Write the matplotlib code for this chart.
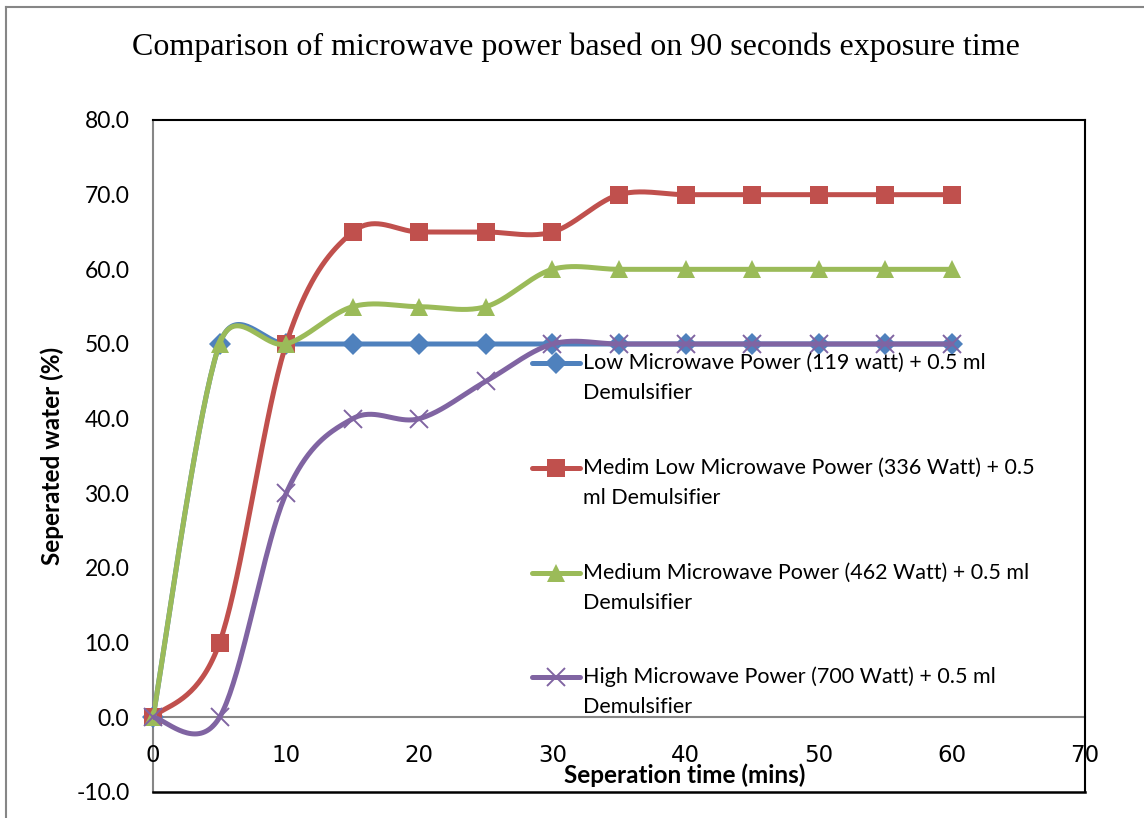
#!/usr/bin/env python3
"""Separated water vs separation time for four microwave power levels."""

import matplotlib
matplotlib.use("Agg")
import matplotlib.pyplot as plt
from matplotlib.lines import Line2D
import numpy as np

# separation time (mins)
times = [0, 5, 10, 15, 20, 25, 30, 35, 40, 45, 50, 55, 60]

low_power = [0, 50, 50, 50, 50, 50, 50, 50, 50, 50, 50, 50, 50]
medim_low_power = [0, 10, 50, 65, 65, 65, 65, 70, 70, 70, 70, 70, 70]
medium_power = [0, 50, 50, 55, 55, 55, 60, 60, 60, 60, 60, 60, 60]
high_power = [0, 0, 30, 40, 40, 45, 50, 50, 50, 50, 50, 50, 50]

series_labels = [
    "Low Microwave Power (119 watt) + 0.5 ml\nDemulsifier",
    "Medim Low Microwave Power (336 Watt) + 0.5\nml Demulsifier",
    "Medium Microwave Power (462 Watt) + 0.5 ml\nDemulsifier",
    "High Microwave Power (700 Watt) + 0.5 ml\nDemulsifier",
]

x_ticks = [0, 10, 20, 30, 40, 50, 60, 70]
y_ticks = [-10, 0, 10, 20, 30, 40, 50, 60, 70, 80]

COLORS = ["#4F81BD", "#C0504D", "#9BBB59", "#8064A2"]
MARKERS = ["D", "s", "^", "x"]
MSIZES = [11, 13.5, 13.5, 13.5]

SANS = ["Lato", "DejaVu Sans"]
W, H = 1144, 818


def smooth_curve(ax, x, y, steps=40, cap=0.7):
    """Excel-like smoothed line, built in display space so the
    tangent length can be capped relative to each segment."""
    pts = ax.transData.transform(np.column_stack([x, y]).astype(float))
    n = len(pts)
    t = np.linspace(0, 1, steps)[1:, None]
    out = [pts[:1]]
    for i in range(n - 1):
        p0 = pts[i - 1] if i > 0 else pts[i]
        p1, p2 = pts[i], pts[i + 1]
        p3 = pts[i + 2] if i + 2 < n else pts[i + 1]
        seg_len = np.hypot(*(p2 - p1))
        d02 = np.hypot(*(p2 - p0)) or 1.0
        d13 = np.hypot(*(p3 - p1)) or 1.0
        f1 = min(1 / 6, cap * seg_len / d02)
        f2 = min(1 / 6, cap * seg_len / d13)
        c1 = p1 + f1 * (p2 - p0)
        c2 = p2 - f2 * (p3 - p1)
        seg = ((1 - t) ** 3) * p1 + 3 * ((1 - t) ** 2) * t * c1 \
            + 3 * (1 - t) * t ** 2 * c2 + t ** 3 * p2
        out.append(seg)
    curve = ax.transData.inverted().transform(np.vstack(out))
    return curve[:, 0], curve[:, 1]


def main() -> None:
    fig = plt.figure(figsize=(W / 100, H / 100), dpi=100)
    left, right, top, bottom = 153, 1085, 120, 792
    ax = fig.add_axes([left / W, 1 - bottom / H, (right - left) / W, (bottom - top) / H])
    ax.set_xlim(0, 70)
    ax.set_ylim(-10, 80)

    data = [low_power, medim_low_power, medium_power, high_power]
    for vals, color, marker, ms in zip(data, COLORS, MARKERS, MSIZES):
        sx, sy = smooth_curve(ax, times, vals)
        ax.plot(sx, sy, color=color, lw=3.6, solid_capstyle="round", zorder=3)
        mew = 1.4 if marker == "x" else 0
        ax.plot(times, vals, linestyle="none", marker=marker, markersize=ms,
                color=color, markeredgewidth=mew, zorder=3, clip_on=False)

    ax.set_xticks(x_ticks)
    ax.set_yticks(y_ticks)
    ax.set_yticklabels([f"{v:.1f}" for v in y_ticks])
    ax.tick_params(length=0, labelsize=16.5)
    ax.tick_params(axis="y", pad=17)
    ax.tick_params(axis="x", pad=19)
    for lab in ax.get_xticklabels() + ax.get_yticklabels():
        lab.set_family(SANS)

    # category axis crosses at zero, plot area keeps a black frame
    ax.spines["bottom"].set_position(("data", 0))
    ax.spines["bottom"].set_color("#868686")
    ax.spines["bottom"].set_linewidth(1.5)
    ax.spines["left"].set_color("#868686")
    ax.spines["left"].set_linewidth(1.5)
    ax.spines["left"].set_zorder(1)
    for side in ("top", "right"):
        ax.spines[side].set_color("black")
        ax.spines[side].set_linewidth(1.5)
        ax.spines[side].set_zorder(5)
    ax.plot([0, 1], [0, 0], transform=ax.transAxes, color="black", lw=1.8,
            clip_on=False, zorder=5)

    ax.set_ylabel("Seperated water (%)", fontsize=17.5, fontweight="bold", family=SANS)
    ax.yaxis.set_label_coords(-0.096, 0.5)
    ax.set_xlabel("Seperation time (mins)", fontsize=17.5, fontweight="bold", family=SANS)
    ax.xaxis.set_label_coords(0.57, 0.042)

    fig.text(576 / W, 1 - 47 / H, "Comparison of microwave power based on 90 seconds exposure time",
             ha="center", va="center", fontsize=23, family="Liberation Serif")

    # legend sits over the plot area, key aligned with the first text line
    entry_y = [363, 468, 573, 677]
    for yy, color, marker, ms, label in zip(entry_y, COLORS, MARKERS, MSIZES, series_labels):
        fy = 1 - yy / H
        mew = 1.4 if marker == "x" else 0
        fig.add_artist(Line2D([532 / W, 580 / W], [fy, fy], color=color, lw=3.6,
                              solid_capstyle="round", zorder=4))
        fig.add_artist(Line2D([556 / W], [fy], color=color, marker=marker, markersize=ms,
                              markeredgewidth=mew, linestyle="none", zorder=4))
        for k, line in enumerate(label.split("\n")):
            fig.text(583 / W, 1 - (yy + 30 * k) / H, line, ha="left", va="center",
                     fontsize=15.5, family=SANS, zorder=4)

    # chart area border
    fig.add_artist(Line2D([6 / W, 6 / W], [0, 1 - 7 / H], color="#868686", lw=1.5))
    fig.add_artist(Line2D([6 / W, 1], [1 - 7 / H, 1 - 7 / H], color="#868686", lw=1.5))

    fig.savefig("out.png", dpi=100)
    plt.close(fig)


if __name__ == "__main__":
    main()
